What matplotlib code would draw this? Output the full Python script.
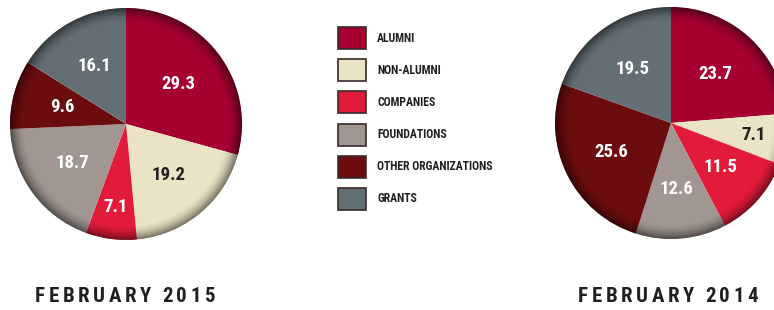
import matplotlib
matplotlib.use("Agg")
import matplotlib.pyplot as plt
import matplotlib.patches as mpatches
import numpy as np

categories = ["ALUMNI", "NON-ALUMNI", "COMPANIES", "FOUNDATIONS",
              "OTHER ORGANIZATIONS", "GRANTS"]
values_2015 = [29.3, 19.2, 7.1, 18.7, 9.6, 16.1]
values_2014 = [23.7, 7.1, 11.5, 12.6, 25.6, 19.5]
titles = ["FEBRUARY 2015", "FEBRUARY 2014"]

colors = ["#a50030", "#ebe3c6", "#e31b3a", "#a19691", "#6b0d0f", "#636e75"]
label_colors = ["white", "#231f20", "white", "white", "white", "white"]
dark = "#231f20"
fam = ["Roboto Condensed", "Archivo Narrow", "DejaVu Sans"]

W, H = 774, 310
fig = plt.figure(figsize=(W / 100, H / 100), dpi=100)
ax = fig.add_axes([0, 0, 1, 1])
ax.set_xlim(0, W)
ax.set_ylim(0, H)
ax.set_aspect("equal")
ax.axis("off")
renderer = fig.canvas.get_renderer()


def py(y):
    # pixel row (from top) -> data y
    return H - y


def spaced_text(t, x0, x1, y, size, space_w):
    # lay a string out letter by letter so it spans x0..x1
    glyphs = []
    for ch in t:
        g = ax.text(0, py(y), ch if ch != " " else "", color=dark,
                    ha="left", va="center", fontsize=size, fontweight="bold",
                    family=fam, zorder=6)
        w = g.get_window_extent(renderer).width if ch != " " else space_w
        glyphs.append((g, w))
    total = sum(w for _, w in glyphs)
    track = (x1 - x0 - total) / (len(glyphs) - 1)
    x = x0
    for g, w in glyphs:
        g.set_x(x)
        x += w + track


def draw_pie(vals, cx, cy, r):
    wedges, _ = ax.pie(vals, colors=colors, startangle=90, counterclock=False,
                       center=(cx, py(cy)), radius=r, frame=True,
                       wedgeprops=dict(linewidth=0))
    # soft dark rim
    n = 300
    xs = np.linspace(-1, 1, n)
    xx, yy = np.meshgrid(xs, xs)
    rr = np.sqrt(xx ** 2 + yy ** 2)
    alpha = np.clip((rr - 0.87) / 0.13, 0, 1) ** 1.8 * 0.5
    img = np.zeros((n, n, 4))
    img[..., 3] = alpha
    circ = mpatches.Circle((cx, py(cy)), r, transform=ax.transData,
                           facecolor="none", edgecolor="none")
    ax.add_patch(circ)
    im = ax.imshow(img, extent=(cx - r, cx + r, py(cy) - r, py(cy) + r),
                   zorder=3, interpolation="bilinear")
    im.set_clip_path(circ)
    for w, v, c in zip(wedges, vals, label_colors):
        mid = np.deg2rad((w.theta1 + w.theta2) / 2)
        d = 0.72 if v < 8 else 0.57
        ax.text(cx + d * r * np.cos(mid), py(cy) + d * r * np.sin(mid),
                f"{v:.1f}", color=c, ha="center", va="center",
                fontsize=13.5, fontweight="bold", family=fam, zorder=4)


draw_pie(values_2015, 126, 124, 116)
draw_pie(values_2014, 671, 123, 116)

# legend
for i, (cat, col) in enumerate(zip(categories, colors)):
    yc = 38 + 32.2 * i
    ax.add_patch(mpatches.Rectangle((338, py(yc) - 11), 28, 22, facecolor=col,
                                    edgecolor="#3a2a2a", linewidth=1.2, zorder=5))
    ax.text(377, py(yc), cat, color=dark, ha="left", va="center",
            fontsize=8.5, fontweight="bold", family=fam)

# titles
for t, (x0, x1) in zip(titles, [(35, 215), (578, 758)]):
    spaced_text(t, x0, x1, 297, 15, 4.0)

fig.savefig("out.png", dpi=100, facecolor="white")
